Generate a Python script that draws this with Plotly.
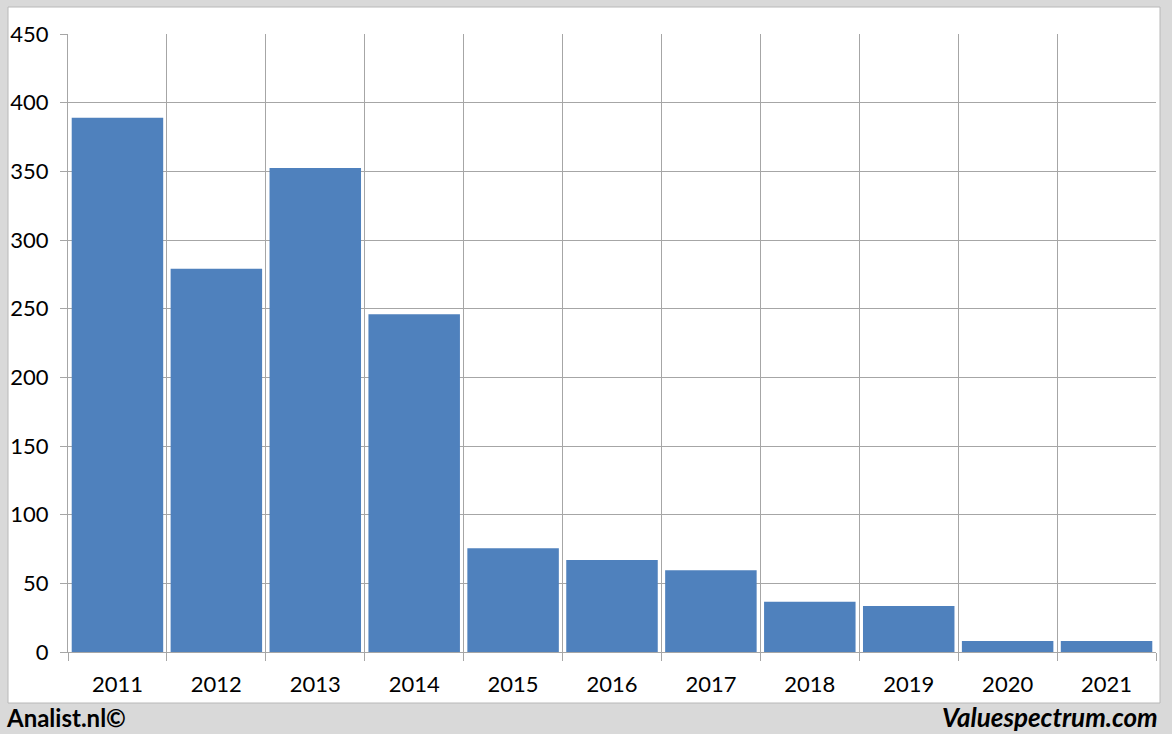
import plotly.graph_objects as go

years = ["2011", "2012", "2013", "2014", "2015", "2016", "2017", "2018", "2019", "2020", "2021"]
values = [389, 279, 352.5, 246, 75.5, 67, 59.5, 36.5, 33.5, 8, 8]
y_ticks = [0, 50, 100, 150, 200, 250, 300, 350, 400, 450]

FONT = "Lato, 'Open Sans', sans-serif"
GRID = "#a6a6a6"

fig = go.Figure(go.Bar(x=years, y=values, marker=dict(color="#4f81bd", line=dict(width=0))))

W, H = 1172, 734
L, R, T, B = 68, 16, 34, 82
pw, ph = W - L - R, H - T - B

def px2x(p):
    return (p - L) / pw

def px2y(p):
    return (H - B - p) / ph

fig.add_shape(type="rect", xref="paper", yref="paper",
              x0=px2x(8), x1=px2x(1160), y0=px2y(703), y1=px2y(7),
              fillcolor="white", line=dict(color="#b8b8b8", width=1), layer="below")

fig.update_layout(
    width=W, height=H,
    margin=dict(l=L, r=R, t=T, b=B, autoexpand=False),
    paper_bgcolor="#d9d9d9",
    plot_bgcolor="rgba(0,0,0,0)",
    bargap=0.075,
    showlegend=False,
    font=dict(family=FONT, size=22, color="#000000"),
    xaxis=dict(type="category", tickson="boundaries", showgrid=True, gridcolor=GRID, gridwidth=1,
               ticks="outside", ticklen=8, tickcolor=GRID, showline=True, linecolor=GRID,
               automargin=False, ticklabelstandoff=13, tickfont=dict(size=22)),
    yaxis=dict(range=[0, 450], tickvals=y_ticks, showgrid=True, gridcolor=GRID, gridwidth=1,
               ticks="outside", ticklen=7, tickcolor=GRID, showline=True, linecolor=GRID,
               automargin=False, zeroline=False, ticklabelstandoff=7, tickfont=dict(size=22)),
)

fig.add_annotation(xref="paper", yref="paper", x=px2x(4), y=px2y(717), xanchor="left", yanchor="middle",
                   text="<b>Analist.nl©</b>", showarrow=False, font=dict(family=FONT, size=24, color="#000"))
fig.add_annotation(xref="paper", yref="paper", x=px2x(1160), y=px2y(717), xanchor="right", yanchor="middle",
                   text="<b><i>Valuespectrum.com</i></b>", showarrow=False, font=dict(family=FONT, size=26, color="#000"))

fig.write_html("out.html", config={"displayModeBar": False},
               post_script="document.body.style.margin='0';document.body.style.background='#d9d9d9';")
